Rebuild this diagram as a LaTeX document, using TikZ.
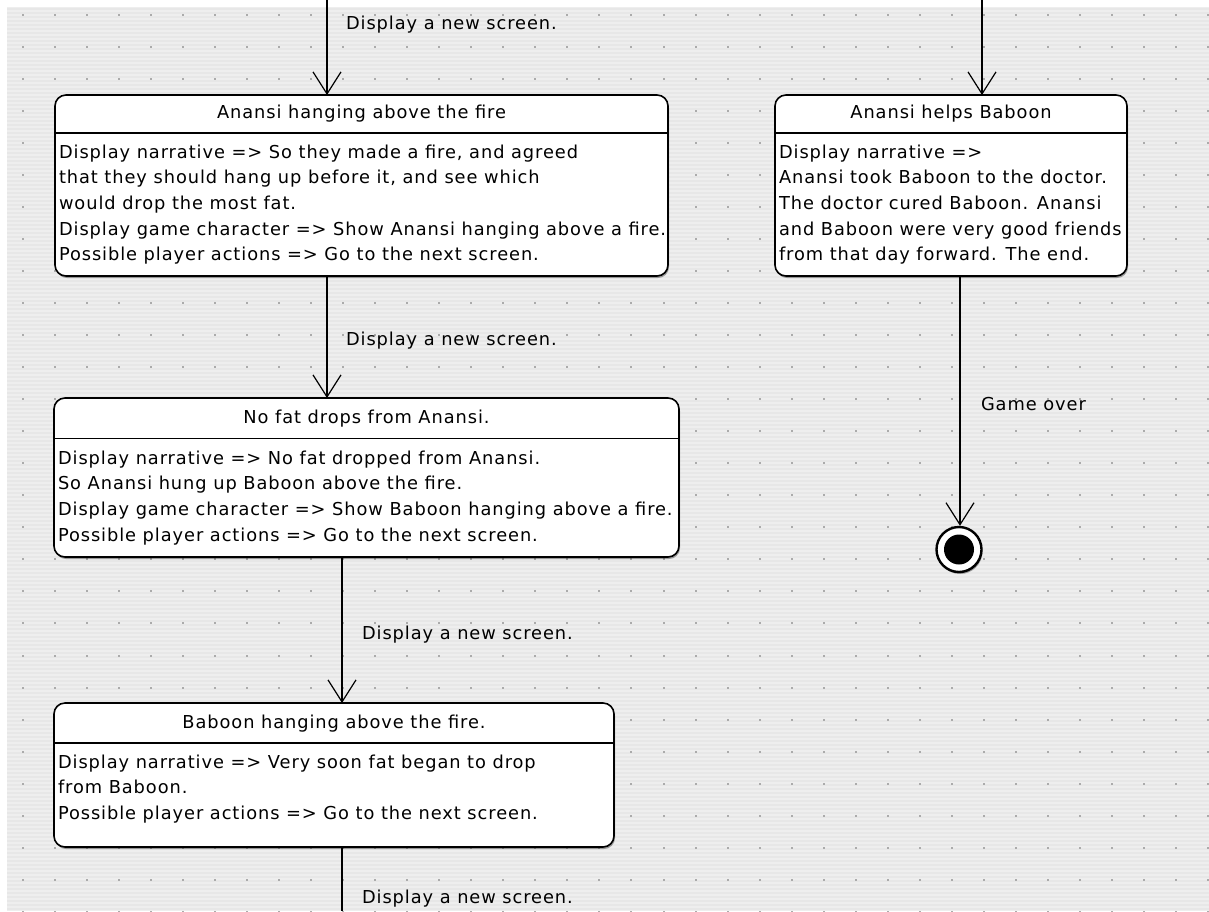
\documentclass[tikz,border=0pt]{standalone}
\usepackage{fontspec}
\setmainfont[LetterSpace=5.2]{DejaVu Sans}
\usetikzlibrary{arrows.meta,shadows}
\definecolor{bgc}{HTML}{EEEEEE}
\definecolor{stripec}{HTML}{E7E7E7}
\definecolor{dotc}{HTML}{ABABAB}
\tikzset{
  statebox/.style={draw=black, line width=1.6pt, fill=white, rounded corners=11pt,
    inner sep=0pt, outer sep=0pt, anchor=north west,
    drop shadow={shadow xshift=1pt, shadow yshift=-2pt, opacity=0.35, fill=black}},
  divider/.style={line width=1.4pt},
  txt/.style={font=\fontsize{17.8}{20}\selectfont, inner sep=0pt, outer sep=0pt, anchor=base west},
  hdr/.style={txt, anchor=base},
  lbl/.style={txt},
  conn/.style={line width=1.3pt, -{Straight Barb[length=22pt,width=28pt,line width=1.2pt]}},
  plainline/.style={line width=1.3pt},
}
\begin{document}
\begin{tikzpicture}[x=1pt,y=-1pt]
\useasboundingbox (0,0) rectangle (1209,911);
% background
\fill[white] (0,0) rectangle (1209,911);
\fill[bgc] (7,7) rectangle (1209,911);
\foreach \k in {0,...,225} \fill[stripec] (7,{8+4*\k}) rectangle (1209,{10+4*\k});
\foreach \i in {0,...,37} \foreach \j in {0,...,28}
  \fill[dotc] ({21.5+32.05*\i},{13.5+32.05*\j}) rectangle +(2,2);

% state 1
\node[statebox, minimum width=613pt, minimum height=181pt] (S1) at (55,95) {};
\draw[divider] (S1.west |- 0,133) -- (S1.east |- 0,133);
\node[hdr] (S1h) at (S1.north |- 0,118) {Anansi hanging above the fire};
\foreach \t [count=\i] in {{Display narrative => So they made a fire, and agreed},
  {that they should hang up before it, and see which},
  {would drop the most fat.},
  {Display game character => Show Anansi hanging above a fire.},
  {Possible player actions => Go to the next screen.}}
  \node[txt] (S1-\i) at (59,{158.3+25.6*(\i-1)}) {\t};

% state 2
\node[statebox, minimum width=352pt, minimum height=181pt] (S2) at (775,95) {};
\draw[divider] (S2.west |- 0,133) -- (S2.east |- 0,133);
\node[hdr] (S2h) at (S2.north |- 0,118) {Anansi helps Baboon};
\foreach \t [count=\i] in {{Display narrative =>},
  {Anansi took Baboon to the doctor.},
  {The doctor cured Baboon. Anansi},
  {and Baboon were very good friends},
  {from that day forward. The end.}}
  \node[txt] (S2-\i) at (779,{158.3+25.6*(\i-1)}) {\t};

% state 3
\node[statebox, minimum width=625pt, minimum height=159pt] (S3) at (54,398) {};
\draw[divider] (S3.west |- 0,438.5) -- (S3.east |- 0,438.5);
\node[hdr] (S3h) at (S3.north |- 0,423.5) {No fat drops from Anansi.};
\foreach \t [count=\i] in {{Display narrative => No fat dropped from Anansi.},
  {So Anansi hung up Baboon above the fire.},
  {Display game character => Show Baboon hanging above a fire.},
  {Possible player actions => Go to the next screen.}}
  \node[txt] (S3-\i) at (58,{464.3+25.6*(\i-1)}) {\t};

% state 4
\node[statebox, minimum width=560pt, minimum height=144pt] (S4) at (54,703) {};
\draw[divider] (S4.west |- 0,743) -- (S4.east |- 0,743);
\node[hdr] (S4h) at (S4.north |- 0,728) {Baboon hanging above the fire.};
\foreach \t [count=\i] in {{Display narrative => Very soon fat began to drop},
  {from Baboon.},
  {Possible player actions => Go to the next screen.}}
  \node[txt] (S4-\i) at (58,{768.3+25.6*(\i-1)}) {\t};

% final state
\node[circle, draw=black, line width=2.4pt, fill=white, minimum size=45pt, inner sep=0pt,
  drop shadow={shadow xshift=1pt, shadow yshift=-2pt, opacity=0.35, fill=black}] (F) at (959,549.5) {};
\node[circle, fill=black, minimum size=30pt, inner sep=0pt] (Fi) at (F) {};

% connectors
\coordinate (a1) at (327,0);
\coordinate (a2) at (342,0);
\coordinate (e1) at (342,911);
\coordinate (b1) at (982,0);
\coordinate (b2) at (960,0);
\draw[conn] (a1) -- (a1 |- S1.north);
\node[lbl] (L1) at (346,29) {Display a new screen.};
\draw[conn] (a1 |- S1.south) -- (a1 |- S3.north);
\node[lbl] (L2) at (346,345) {Display a new screen.};
\draw[conn] (a2 |- S3.south) -- (a2 |- S4.north);
\node[lbl] (L3) at (362,639) {Display a new screen.};
\draw[plainline] (a2 |- S4.south) -- (e1);
\node[lbl] (L4) at (362,903) {Display a new screen.};
\draw[conn] (b1) -- (b1 |- S2.north);
\draw[conn] (b2 |- S2.south) -- (b2 |- F.north);
\node[lbl] (L5) at (981,410) {Game over};
\end{tikzpicture}
\end{document}
